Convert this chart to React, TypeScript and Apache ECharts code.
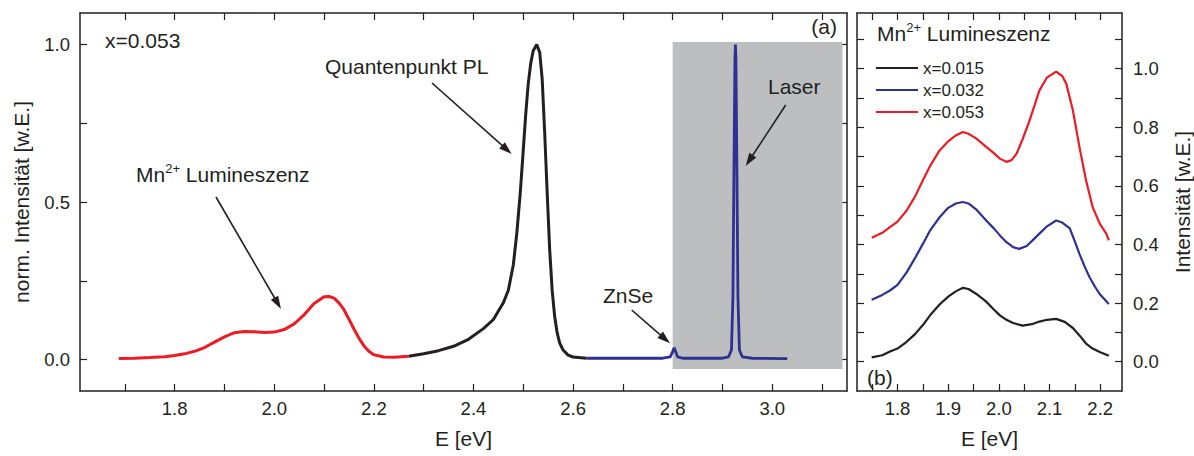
import React, { useEffect, useRef } from "react";
import * as echarts from "echarts";

// ---------- Panel (a): spectrum of x = 0.053 (three coloured segments) ----------
const mnE = [1.688, 1.72, 1.75, 1.78, 1.8, 1.82, 1.84, 1.86, 1.88, 1.9, 1.92, 1.94, 1.96, 1.98, 2.0, 2.02, 2.04, 2.06, 2.08, 2.1, 2.11, 2.12, 2.13, 2.14, 2.15, 2.16, 2.17, 2.18, 2.19, 2.2, 2.22, 2.24, 2.27];
const mnI = [0.003, 0.004, 0.006, 0.009, 0.013, 0.018, 0.026, 0.038, 0.055, 0.072, 0.085, 0.089, 0.088, 0.086, 0.087, 0.095, 0.113, 0.142, 0.178, 0.199, 0.2, 0.195, 0.18, 0.158, 0.128, 0.097, 0.068, 0.044, 0.026, 0.015, 0.008, 0.007, 0.01];

const qdE = [2.27, 2.3, 2.33, 2.36, 2.39, 2.42, 2.44, 2.46, 2.47, 2.48, 2.487, 2.494, 2.5, 2.505, 2.51, 2.515, 2.52, 2.527, 2.533, 2.538, 2.543, 2.548, 2.553, 2.558, 2.563, 2.568, 2.573, 2.58, 2.59, 2.6, 2.627];
const qdI = [0.01, 0.018, 0.028, 0.042, 0.064, 0.098, 0.127, 0.18, 0.22, 0.3, 0.4, 0.53, 0.665, 0.78, 0.876, 0.94, 0.98, 1.0, 0.975, 0.89, 0.72, 0.53, 0.35, 0.22, 0.137, 0.085, 0.053, 0.03, 0.014, 0.008, 0.004];

const lzE = [2.627, 2.7, 2.78, 2.795, 2.8, 2.803, 2.806, 2.81, 2.82, 2.9, 2.912, 2.918, 2.921, 2.923, 2.925, 2.926, 2.927, 2.929, 2.931, 2.934, 2.94, 2.96, 3.03];
const lzI = [0.004, 0.004, 0.004, 0.008, 0.025, 0.037, 0.025, 0.008, 0.004, 0.004, 0.008, 0.03, 0.2, 0.6, 0.95, 1.0, 0.95, 0.6, 0.2, 0.03, 0.008, 0.004, 0.003];

// ---------- Panel (b): Mn2+ luminescence for three concentrations ----------
const legendNames = ["x=0.015", "x=0.032", "x=0.053"];

const bE015 = [1.749, 1.77, 1.785, 1.8, 1.818, 1.835, 1.85, 1.865, 1.883, 1.9, 1.915, 1.929, 1.94, 1.955, 1.975, 1.99, 2.002, 2.015, 2.028, 2.047, 2.065, 2.08, 2.095, 2.113, 2.13, 2.146, 2.16, 2.172, 2.185, 2.199, 2.217];
const bI015 = [0.015, 0.022, 0.035, 0.045, 0.068, 0.095, 0.125, 0.16, 0.195, 0.222, 0.24, 0.252, 0.248, 0.232, 0.205, 0.178, 0.158, 0.143, 0.132, 0.123, 0.128, 0.137, 0.143, 0.146, 0.136, 0.115, 0.088, 0.062, 0.045, 0.033, 0.02];

const bE032 = [1.749, 1.77, 1.785, 1.8, 1.818, 1.835, 1.85, 1.865, 1.883, 1.9, 1.915, 1.929, 1.94, 1.955, 1.975, 1.99, 2.002, 2.015, 2.028, 2.04, 2.055, 2.07, 2.08, 2.095, 2.113, 2.125, 2.14, 2.15, 2.159, 2.17, 2.179, 2.19, 2.199, 2.217];
const bI032 = [0.211, 0.228, 0.243, 0.262, 0.305, 0.355, 0.402, 0.45, 0.493, 0.525, 0.54, 0.545, 0.54, 0.52, 0.482, 0.455, 0.431, 0.408, 0.391, 0.385, 0.395, 0.42, 0.437, 0.462, 0.482, 0.475, 0.455, 0.41, 0.368, 0.322, 0.288, 0.255, 0.231, 0.197];

const bE053 = [1.749, 1.77, 1.785, 1.8, 1.818, 1.835, 1.85, 1.865, 1.883, 1.9, 1.915, 1.929, 1.94, 1.955, 1.975, 1.99, 2.002, 2.015, 2.025, 2.035, 2.047, 2.06, 2.08, 2.095, 2.113, 2.125, 2.133, 2.146, 2.159, 2.172, 2.185, 2.199, 2.212, 2.217];
const bI053 = [0.423, 0.44, 0.459, 0.478, 0.516, 0.565, 0.619, 0.67, 0.721, 0.752, 0.772, 0.784, 0.778, 0.762, 0.733, 0.712, 0.693, 0.682, 0.688, 0.71, 0.76, 0.82, 0.926, 0.97, 0.99, 0.975, 0.949, 0.858, 0.733, 0.619, 0.528, 0.471, 0.437, 0.414];

// ---------- Tick values / labels ----------
const aTicksX = [1.7, 1.8, 1.9, 2.0, 2.1, 2.2, 2.3, 2.4, 2.5, 2.6, 2.7, 2.8, 2.9, 3.0, 3.1];
const aLabelsX = [1.8, 2.0, 2.2, 2.4, 2.6, 2.8, 3.0];
const aTicksY = [0, 0.25, 0.5, 0.75, 1.0];
const aLabelsY = [0, 0.5, 1.0];
const bTicksX = [1.75, 1.8, 1.85, 1.9, 1.95, 2.0, 2.05, 2.1, 2.15, 2.2];
const bLabelsX = [1.8, 1.9, 2.0, 2.1, 2.2];
const bTicksY = [0, 0.1, 0.2, 0.3, 0.4, 0.5, 0.6, 0.7, 0.8, 0.9, 1.0, 1.1];
const bLabelsY = [0, 0.2, 0.4, 0.6, 0.8, 1.0];

const AX = "#231f20";
const RED = "#ed1c24";
const BLUE = "#2e3192";
const BLACK = "#231f20";
const GREY = "#bcbec0";
const FONT = "'Liberation Sans', Arial, Helvetica, sans-serif";

const zip = (xs: number[], ys: number[]) => xs.map((x, i) => [x, ys[i]]);

function axis(o: any) {
  return {
    type: "value",
    gridIndex: o.grid,
    position: o.pos,
    min: o.min,
    max: o.max,
    axisLine: { show: true, onZero: false, lineStyle: { color: AX, width: 1.5 } },
    axisTick: { show: true, inside: true, length: 7, lineStyle: { color: AX, width: 1.2 }, customValues: o.ticks },
    minorTick: { show: false },
    splitLine: { show: false },
    axisLabel: {
      show: !!o.labels,
      customValues: o.labels || [],
      formatter: (v: number) => Number(v).toFixed(1),
      fontSize: 18.5,
      color: AX,
      fontFamily: FONT,
      margin: o.margin ?? 8,
    },
    name: o.name || "",
    nameLocation: "middle",
    nameGap: o.nameGap ?? 30,
    nameRotate: o.nameRotate,
    nameTextStyle: { fontSize: 21, color: AX, fontFamily: FONT },
  };
}

function arrow(x1: number, y1: number, x2: number, y2: number) {
  const dx = x2 - x1, dy = y2 - y1;
  const len = Math.hypot(dx, dy);
  const ux = dx / len, uy = dy / len;
  const L = 13, W = 4.2;
  const bx = x2 - ux * L, by = y2 - uy * L;
  return [
    { type: "line", silent: true, z: 10, shape: { x1, y1, x2: bx + ux * 2, y2: by + uy * 2 }, style: { stroke: AX, lineWidth: 1.6 } },
    { type: "polygon", silent: true, z: 10, shape: { points: [[x2, y2], [bx - uy * W, by + ux * W], [bx + uy * W, by - ux * W]] }, style: { fill: AX } },
  ];
}

function txt(text: string, x: number, y: number, align = "left", size = 21) {
  return { type: "text", z: 10, silent: true, x, y, style: { text, fill: AX, fontSize: size, fontFamily: FONT, align, verticalAlign: "middle" } };
}

function mnText(x: number, y: number) {
  return {
    type: "text", z: 10, silent: true, x, y,
    style: {
      text: "{m|Mn}{s|2+}{m| Lumineszenz}",
      fill: AX, fontFamily: FONT, align: "left", verticalAlign: "middle",
      rich: {
        m: { fontSize: 21, lineHeight: 24, fontFamily: FONT, fill: AX },
        s: { fontSize: 13, lineHeight: 11, verticalAlign: "top", fontFamily: FONT, fill: AX },
      },
    },
  };
}

export default function App() {
  const ref = useRef<HTMLDivElement>(null);
  useEffect(() => {
    if (!ref.current) return;
    const chart = echarts.init(ref.current, undefined, { renderer: "svg" });
    const grids = [
      { left: 80, top: 13, width: 767, height: 378, outerBoundsMode: "none", containLabel: false },
      { left: 857, top: 13, width: 265, height: 378, outerBoundsMode: "none", containLabel: false },
    ];
    const option: any = {
      animation: false,
      backgroundColor: "#ffffff",
      textStyle: { fontFamily: FONT },
      grid: grids,
      xAxis: [
        axis({ grid: 0, pos: "bottom", min: 1.61, max: 3.15, ticks: aTicksX, labels: aLabelsX, name: "E [eV]", nameGap: 37, margin: 8 }),
        axis({ grid: 0, pos: "top", min: 1.61, max: 3.15, ticks: aTicksX }),
        axis({ grid: 1, pos: "bottom", min: 1.72, max: 2.243, ticks: bTicksX, labels: bLabelsX, name: "E [eV]", nameGap: 37, margin: 8 }),
        axis({ grid: 1, pos: "top", min: 1.72, max: 2.243, ticks: bTicksX }),
      ],
      yAxis: [
        axis({ grid: 0, pos: "left", min: -0.1, max: 1.1, ticks: aTicksY, labels: aLabelsY, name: "norm. Intensität [w.E.]", nameGap: 48, nameRotate: 90, margin: 10 }),
        axis({ grid: 0, pos: "right", min: -0.1, max: 1.1, ticks: aTicksY }),
        axis({ grid: 1, pos: "left", min: -0.1, max: 1.19, ticks: bTicksY }),
        axis({ grid: 1, pos: "right", min: -0.1, max: 1.19, ticks: bTicksY, labels: bLabelsY, name: "Intensität [w.E.]", nameGap: 50, nameRotate: 90, margin: 11 }),
      ],
      legend: {
        data: legendNames,
        orient: "vertical",
        left: 875,
        top: 59.5,
        padding: 0,
        itemWidth: 42,
        itemHeight: 14,
        itemGap: 5,
        itemStyle: { opacity: 0 },
        textStyle: { fontSize: 17, lineHeight: 17, color: AX, fontFamily: FONT },
      },
      series: [
        {
          name: "Laser / ZnSe", type: "line", xAxisIndex: 0, yAxisIndex: 0, data: zip(lzE, lzI), showSymbol: false, symbol: "none",
          lineStyle: { color: BLUE, width: 2.8 }, itemStyle: { color: BLUE }, z: 3,
          markArea: { silent: true, itemStyle: { color: GREY, opacity: 1 }, data: [[{ xAxis: 2.8, yAxis: -0.03 }, { xAxis: 3.141, yAxis: 1.008 }]] },
        },
        { name: "Mn2+ (a)", type: "line", xAxisIndex: 0, yAxisIndex: 0, data: zip(mnE, mnI), symbol: "none", lineStyle: { color: RED, width: 3 }, itemStyle: { color: RED }, z: 4 },
        { name: "QD PL", type: "line", xAxisIndex: 0, yAxisIndex: 0, data: zip(qdE, qdI), symbol: "none", lineStyle: { color: BLACK, width: 3 }, itemStyle: { color: BLACK }, z: 4 },
        { name: legendNames[0], type: "line", xAxisIndex: 2, yAxisIndex: 3, data: zip(bE015, bI015), symbol: "none", lineStyle: { color: BLACK, width: 2.2 }, itemStyle: { color: BLACK } },
        { name: legendNames[1], type: "line", xAxisIndex: 2, yAxisIndex: 3, data: zip(bE032, bI032), symbol: "none", lineStyle: { color: BLUE, width: 2.2 }, itemStyle: { color: BLUE } },
        { name: legendNames[2], type: "line", xAxisIndex: 2, yAxisIndex: 3, data: zip(bE053, bI053), symbol: "none", lineStyle: { color: RED, width: 2.2 }, itemStyle: { color: RED } },
      ],
      graphic: [
        txt("x=0.053", 105, 40),
        txt("(a)", 837, 26, "right"),
        txt("Quantenpunkt PL", 325, 66),
        mnText(136, 174),
        txt("ZnSe", 603, 295),
        txt("Laser", 768, 86),
        txt("(b)", 867, 377),
        mnText(877, 33),
        ...arrow(216, 197, 281, 309),
        ...arrow(432, 83, 511.7, 154),
        ...arrow(631.7, 310, 670, 343.3),
        ...arrow(785.7, 105, 745.7, 166),
      ],
    };
    chart.setOption(option);
    return () => chart.dispose();
  }, []);
  return <div ref={ref} style={{ position: "fixed", left: 0, top: 0, width: 1194, height: 456 }} />;
}
